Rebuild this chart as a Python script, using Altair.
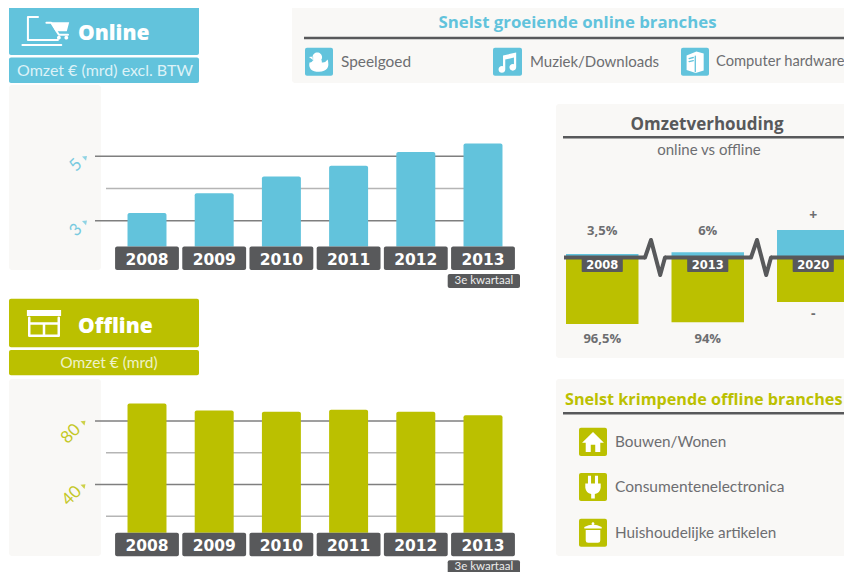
import altair as alt
import pandas as pd

years = ["2008", "2009", "2010", "2011", "2012", "2013"]
online_values = [3.24, 3.85, 4.37, 4.71, 5.13, 5.40]
offline_values = [91.0, 86.5, 85.8, 87.0, 85.7, 83.5]
online_grid = [5, 4, 3]
offline_grid = [80, 60, 40, 20]
online_ticks = [5, 3]
offline_ticks = [80, 40]
online_base = 2.2
offline_base = 9.6
ratio_years = ["2008", "2013", "2020"]
ratio_online = [3.5, 6, 38]
ratio_offline = [-96.5, -94, -65]
ratio_top_labels = ["3,5%", "6%", "+"]
ratio_bottom_labels = ["96,5%", "94%", "-"]

BLUE = "#62C3DC"
GREEN = "#BBC000"
DARK = "#58595B"
GREY = "#6D6E71"
PANEL = "#F9F8F6"
MAJOR = "#7F7F7F"
MINOR = "#B5B5B5"
BODY = "Lato"
HEAD = "Open Sans"
YEARF = "DejaVu Sans"
ONE = alt.Data(values=[{"k": 1}])


def px(v):
    return alt.value(v - 8)


def box(x1, y1, x2, y2, color, r=2):
    return alt.Chart(ONE).mark_rect(color=color, cornerRadius=r).encode(
        x=px(x1), x2=px(x2), y=px(y1), y2=px(y2))


def hline(x1, x2, y, color=DARK, w=2.5):
    return alt.Chart(ONE).mark_rule(color=color, strokeWidth=w).encode(
        x=px(x1), x2=px(x2), y=px(y))


def label(s, x, y, size, color=GREY, font=BODY, weight="normal", align="center"):
    return alt.Chart(alt.Data(values=[{"t": s}])).mark_text(
        font=font, fontSize=size, fontWeight=weight, color=color, align=align,
        baseline="middle").encode(x=px(x), y=px(y), text="t:N")


def glyph(path, cx, cy, side, fill="white", stroke=None, sw=0):
    kw = dict(shape=path, size=side * side, opacity=1)
    if stroke:
        kw.update(filled=False, stroke=stroke, strokeWidth=sw, strokeJoin="round", strokeCap="round")
    else:
        kw.update(filled=True, fill=fill, strokeWidth=0)
    return alt.Chart(ONE).mark_point(**kw).encode(x=px(cx), y=px(cy))


def circle(cx, cy, r):
    return f"M{cx-r},{cy} A{r},{r} 0 1 1 {cx+r},{cy} A{r},{r} 0 1 1 {cx-r},{cy} Z "


def band(domain, lo, hi, inner):
    return alt.Scale(domain=domain, range=[lo - 8, hi - 8], paddingInner=inner, paddingOuter=inner / 2)


def bar_panel(values, base, grid, ticks, major, y_scale, base_y, color, tick_dy, tick_x, tri_x):
    df = pd.DataFrame({"year": years, "value": values, "base": [base] * len(years)})
    gdf = pd.DataFrame({"v": grid})
    out = []
    maj = gdf[gdf.v.isin(major)]
    minr = gdf[~gdf.v.isin(major)]
    out.append(alt.Chart(maj).mark_rule(color=MAJOR, strokeWidth=1.5).encode(
        y=alt.Y("v:Q", scale=y_scale, axis=None), x=px(95), x2=px(480)))
    out.append(alt.Chart(minr).mark_rule(color=MINOR, strokeWidth=1.5).encode(
        y=alt.Y("v:Q", scale=y_scale, axis=None), x=px(106), x2=px(480)))
    out.append(alt.Chart(df).mark_bar(color=color, cornerRadiusTopLeft=2, cornerRadiusTopRight=2).encode(
        x=alt.X("year:N", scale=band(years, 113.4, 516.6, 0.42), axis=None),
        y=alt.Y("value:Q", scale=y_scale, axis=None),
        y2="base:Q"))
    out.append(alt.Chart(df).mark_bar(color=DARK, cornerRadius=2).encode(
        x=alt.X("year:N", scale=band(years, 113.4, 516.6, 0.05), axis=None),
        y=px(base_y), y2=px(base_y + 23.5)))
    out.append(alt.Chart(df).mark_text(font=YEARF, fontSize=15.5, fontWeight="bold", color="white").encode(
        x=alt.X("year:N", scale=band(years, 113.4, 516.6, 0.05), axis=None),
        y=px(base_y + 13), text="year:N"))
    tdf = pd.DataFrame({"v": ticks, "t": [str(t) for t in ticks]})
    for i in range(len(tdf)):
        one = tdf.iloc[[i]]
        out.append(alt.Chart(one).mark_text(font=BODY, fontSize=17, color=color, angle=315, yOffset=tick_dy[i],
                                            baseline="middle", opacity=0.85).encode(
            x=px(tick_x[i]), y=alt.Y("v:Q", scale=y_scale, axis=None), text="t:N"))
    out.append(alt.Chart(tdf).mark_point(shape="M-1,-0.7 L1,-0.9 L0.6,1 Z", filled=True, fill=color, size=25,
                                         strokeWidth=0, yOffset=2).encode(
        x=px(tri_x), y=alt.Y("v:Q", scale=y_scale, axis=None)))
    out.append(box(447.7, base_y + 27.5, 520, base_y + 41.5, DARK))
    out.append(label("3e kwartaal", 483.8, base_y + 34.5, 11.5, color="#EDEDED"))
    return out


online_y = alt.Scale(domain=[2.2, 5.5], range=[238.5, 132.2], nice=False, zero=False)
offline_y = alt.Scale(domain=[9.6, 95], range=[524.7, 389.1], nice=False, zero=False)

layers = []

# ---------- backgrounds ----------
layers += [
    box(9, 85, 101, 270, PANEL, 3),
    box(9, 379, 101, 556, PANEL, 3),
    box(292, 6, 860, 83, PANEL, 3),
    box(556, 104, 860, 358, PANEL, 3),
    box(556, 379, 860, 556, PANEL, 3),
]

# ---------- Online header ----------
layers += [
    box(9, 6, 199, 55, BLUE),
    box(9, 57.5, 199, 83, BLUE),
    glyph("M-0.67,0.42 L-0.67,-0.54 L-0.25,-0.54 M-0.67,0.42 L0.58,0.42 M-0.9,0.62 L0.72,0.62 "
          "M0.1,-0.3 L0.3,-0.3 L0.62,0.2 L1.0,0.2", 44, 30, 48, stroke="white", sw=2),
    glyph("M0.28,-0.32 L1.05,-0.32 L0.95,0.05 L0.48,0.05 Z " + circle(0.62, 0.32, 0.08) + circle(0.93, 0.32, 0.08),
          44, 30, 48),
    label("Online", 78, 33.5, 21, "white", HEAD, 800, "left"),
    label("Omzet € (mrd) excl. BTW", 105, 71, 16, "#DDF2F7"),
]

# ---------- Offline header ----------
layers += [
    box(9, 298.7, 199, 347.3, GREEN),
    box(9, 350, 199, 375.3, GREEN),
    glyph("M-0.95,-0.83 L0.95,-0.83 L0.95,-0.5 L-0.95,-0.5 Z", 44, 325, 36),
    glyph("M-0.82,-0.4 L-0.82,0.6 L0.82,0.6 L0.82,-0.4 M-0.82,-0.08 L0.82,-0.08 M0,-0.08 L0,0.6",
          44, 325, 36, stroke="white", sw=2.5),
    label("Offline", 78, 326.5, 21, "white", HEAD, 800, "left"),
    label("Omzet € (mrd)", 109, 363, 15.5, "#EEF2C8"),
]

# ---------- Bar panels ----------
layers += bar_panel(online_values, online_base, online_grid, online_ticks, [5, 3], online_y, 246.5, BLUE,
                    [9, 9.5], [76, 76], 84.5)
layers += bar_panel(offline_values, offline_base, offline_grid, offline_ticks, [80, 40], offline_y, 532.7, GREEN,
                    [13, 11.5], [71, 72], 83)

# ---------- Top right: growing ----------
layers += [
    label("Snelst groeiende online branches", 577.5, 23, 16.8, BLUE, HEAD, "bold"),
    hline(304, 860, 38),
    box(305, 47.7, 333, 75.7, BLUE),
    glyph(circle(-0.12, -0.32, 0.34) +
          "M-0.42,-0.38 L-0.72,-0.34 L-0.42,-0.12 Z "
          "M-0.42,-0.1 L0.2,-0.1 L0.2,0.05 Q0.45,0.1 0.62,-0.15 Q0.85,0.7 0,0.72 Q-0.8,0.7 -0.68,0.05 Q-0.55,0.1 -0.42,-0.1 Z",
          319, 61.7, 28),
    label("Speelgoed", 341, 62, 15.4, align="left"),
    box(493, 47.7, 522, 75.7, BLUE),
    glyph("M-0.32,-0.45 L0.62,-0.65 L0.62,0.4 L0.46,0.4 L0.46,-0.3 L-0.16,-0.15 L-0.16,0.55 L-0.32,0.55 Z " +
          circle(-0.4, 0.55, 0.24) + circle(0.38, 0.4, 0.24), 507.5, 61.7, 28),
    label("Muziek/Downloads", 530, 62, 15, align="left"),
    box(681, 47.7, 709, 75.7, BLUE),
    glyph("M-0.6,-0.45 L0.1,-0.72 L0.62,-0.58 L0.62,0.62 L0.05,0.8 L-0.6,0.6 Z", 695, 61.7, 28),
    glyph("M0.02,-0.4 L0.02,0.7 M-0.42,-0.22 L-0.12,-0.3 M-0.42,0 L-0.12,-0.08", 695, 61.7, 28, stroke=BLUE, sw=1.3),
    label("Computer hardware", 716, 62, 14.7, align="left"),
]

# ---------- Ratio panel ----------
ratio_scale = alt.Scale(domain=[-100, 50], range=[318.5, 213.5], nice=False, zero=False)
rx_bar = alt.X("year:N", scale=band(ratio_years, 549.5, 866, 0.313), axis=None)
rdf = pd.DataFrame({"year": ratio_years, "on": ratio_online, "off": ratio_offline,
                    "top": ratio_top_labels, "bot": ratio_bottom_labels})
rx_tag = alt.X("year:N", scale=band(ratio_years, 549.5, 866, 0.61), axis=None)
rx_txt = alt.X("year:N", scale=band(ratio_years, 549.5, 866, 0.313), axis=None)
BREAK = "M-0.5,0 L-0.2,-0.875 L0.26,0.875 L0.5,0"
layers += [
    label("Omzetverhouding", 707, 124.5, 17, DARK, HEAD, "bold"),
    hline(563, 860, 137.3),
    label("online vs offline", 709, 150, 15),
    alt.Chart(rdf).mark_bar(color=BLUE).encode(x=rx_bar, y=alt.Y("on:Q", scale=ratio_scale, axis=None)),
    alt.Chart(rdf).mark_bar(color=GREEN).encode(x=rx_bar, y=alt.Y("off:Q", scale=ratio_scale, axis=None)),
    hline(564, 645, 257.5, DARK, 4),
    hline(665, 750, 257.5, DARK, 4),
    hline(771, 849, 257.5, DARK, 4),
    glyph(BREAK, 655, 257.5, 40, stroke=DARK, sw=4),
    glyph(BREAK, 761, 257.5, 40, stroke=DARK, sw=4),
    alt.Chart(rdf).mark_bar(color=DARK, cornerRadius=1).encode(x=rx_tag, y=px(258.5), y2=px(272)),
    alt.Chart(rdf).mark_text(font=YEARF, fontSize=11.5, fontWeight="bold", color="white").encode(
        x=rx_txt, y=px(266), text="year:N"),
]
layers += [
    alt.Chart(rdf[rdf.year != "2020"]).mark_text(font=HEAD, fontSize=13, fontWeight="bold", color=GREY).encode(
        x=rx_txt, y=px(231), text="top:N"),
    alt.Chart(rdf[rdf.year != "2020"]).mark_text(font=HEAD, fontSize=13, fontWeight="bold", color=GREY).encode(
        x=rx_txt, y=px(339), text="bot:N"),
    alt.Chart(rdf[rdf.year == "2020"]).mark_text(font=HEAD, fontSize=14, fontWeight="bold", color=GREY).encode(
        x=rx_txt, y=px(216), text="top:N"),
    alt.Chart(rdf[rdf.year == "2020"]).mark_text(font=HEAD, fontSize=14, fontWeight="bold", color=GREY).encode(
        x=rx_txt, y=px(314), text="bot:N"),
]

# ---------- Bottom right: shrinking ----------
layers += [
    label("Snelst krimpende offline branches", 565, 400, 16.2, GREEN, HEAD, "bold", "left"),
    hline(563, 860, 413.3),
    box(579, 427.7, 607, 456, GREEN),
    glyph("M0,-0.72 L0.78,0.05 L0.52,0.05 L0.52,0.72 L0.16,0.72 L0.16,0.2 L-0.16,0.2 L-0.16,0.72 L-0.52,0.72 L-0.52,0.05 L-0.78,0.05 Z",
          593, 442, 28),
    label("Bouwen/Wonen", 615, 442, 15.3, align="left"),
    box(579, 473, 607, 501, GREEN),
    glyph("M-0.36,-0.8 L-0.14,-0.8 L-0.14,-0.25 L0.14,-0.25 L0.14,-0.8 L0.36,-0.8 L0.36,-0.25 L0.55,-0.25 L0.55,0.05 "
          "Q0.5,0.42 0.13,0.5 L0.13,0.82 L-0.13,0.82 L-0.13,0.5 Q-0.5,0.42 -0.55,0.05 L-0.55,-0.25 L-0.36,-0.25 Z",
          593, 487, 28),
    label("Consumentenelectronica", 615, 487, 15.5, align="left"),
    box(579, 518.7, 607, 546.7, GREEN),
    glyph("M-0.52,-0.2 L0.52,-0.2 L0.52,0.55 Q0.52,0.72 0.35,0.72 L-0.35,0.72 Q-0.52,0.72 -0.52,0.55 Z "
          "M-0.62,-0.4 Q0,-0.78 0.62,-0.4 L0.62,-0.3 L-0.62,-0.3 Z " + circle(0, -0.65, 0.1),
          593, 532.7, 28),
    label("Huishoudelijke artikelen", 615, 532.7, 15.3, align="left"),
]

chart = alt.layer(*layers).resolve_scale(x="independent", y="independent").properties(
    width=836, height=564, padding=0,
    autosize=alt.AutoSizeParams(type="none"),
).configure_view(stroke=None)

chart.save("out.html", embed_options={"renderer": "svg", "actions": False})
